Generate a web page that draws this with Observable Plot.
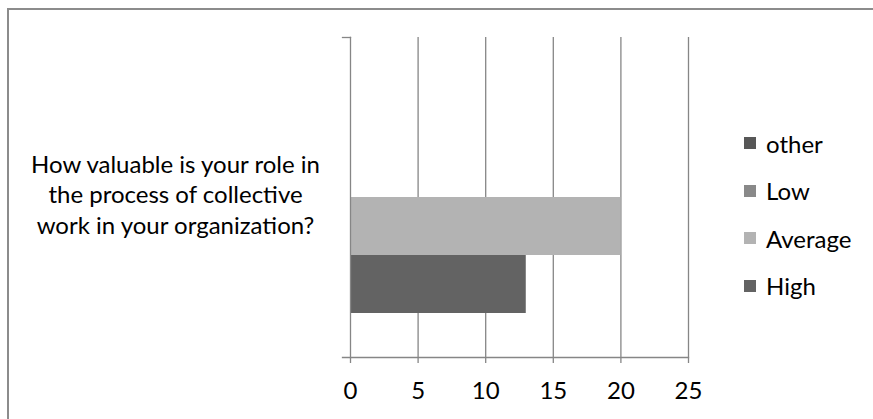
<!DOCTYPE html>
<html>
<head>
<meta charset="utf-8">
<script src="https://cdn.jsdelivr.net/npm/d3@7"></script>
<script src="https://cdn.jsdelivr.net/npm/@observablehq/plot@0.6"></script>
<style>
  html, body { margin: 0; padding: 0; background: #fff; overflow: hidden; }
  #wrap { position: relative; width: 873px; height: 419px; overflow: hidden; font-family: Lato, "Liberation Sans", sans-serif; background: #fff; }
  #bTop { position: absolute; left: 7px; top: 8px; width: 866px; height: 2px; background: #8c8c8c; }
  #bLeft { position: absolute; left: 7px; top: 8px; width: 2px; height: 411px; background: #8c8c8c; }
  #chart { position: absolute; left: 0; top: 0; width: 873px; height: 419px; }
  #legend { position: absolute; left: 744px; top: 130px; }
  .item { display: flex; align-items: center; height: 26px; margin-bottom: 21.5px; font-size: 24px; color: #000; }
  .sw { width: 12px; height: 12px; margin-right: 10px; }
</style>
</head>
<body>
<div id="wrap">
  <div id="chart"></div>
  <div id="bTop"></div>
  <div id="bLeft"></div>
  <div id="legend"></div>
</div>
<script>
const categories = ["How valuable is your role in\nthe process of collective\nwork in your organization?"];
const series = ["other", "Low", "Average", "High"];
const values = [0, 0, 20, 13];
const colors = ["#575757", "#898989", "#b3b3b3", "#636363"];
const xTicks = [0, 5, 10, 15, 20, 25];

const data = series.map((s, i) => ({category: categories[0], series: s, value: values[i]}));

const W = 873, H = 419;
const mL = 350, mR = 185, mT = 37, mB = 62;
const plotW = W - mL - mR;
const gray = "#868686";

const chart = Plot.plot({
  width: W,
  height: H,
  marginLeft: mL,
  marginRight: mR,
  marginTop: mT,
  marginBottom: mB,
  style: {fontFamily: "Lato, 'Liberation Sans', sans-serif", fontSize: "24px", color: "#000", background: "transparent", overflow: "hidden", display: "block"},
  x: {domain: [0, 25], ticks: xTicks, label: null},
  y: {domain: series, paddingInner: 0, paddingOuter: 0.7234, axis: null, label: null},
  color: {domain: series, range: colors},
  marks: [
    Plot.gridX(xTicks.filter(d => d > 0), {stroke: gray, strokeOpacity: 1, strokeWidth: 1.3}),
    Plot.barX(data, {x1: 0, x2: "value", y: "series", fill: "series"}),
    Plot.frame({anchor: "left", stroke: gray, strokeWidth: 1.3}),
    Plot.frame({anchor: "bottom", stroke: gray, strokeWidth: 1.3, insetLeft: -8}),
    Plot.frame({anchor: "top", stroke: gray, strokeWidth: 1.3, insetLeft: -8, insetRight: plotW}),
    Plot.axisX(xTicks, {anchor: "bottom", tickSize: 6, tickPadding: 18, stroke: gray, strokeWidth: 1.3, fill: "#000", fontSize: 24, label: null}),
    Plot.text(categories, {text: d => d, frameAnchor: "left", dx: -175, dy: -4, textAnchor: "middle", lineHeight: 1.28, fontSize: 24, fill: "#000"})
  ]
});
document.getElementById("chart").appendChild(chart);

const legend = document.getElementById("legend");
series.forEach((s, i) => {
  const item = document.createElement("div");
  item.className = "item";
  const sw = document.createElement("span");
  sw.className = "sw";
  sw.style.background = colors[i];
  const t = document.createElement("span");
  t.textContent = s;
  item.appendChild(sw);
  item.appendChild(t);
  legend.appendChild(item);
});
</script>
</body>
</html>
